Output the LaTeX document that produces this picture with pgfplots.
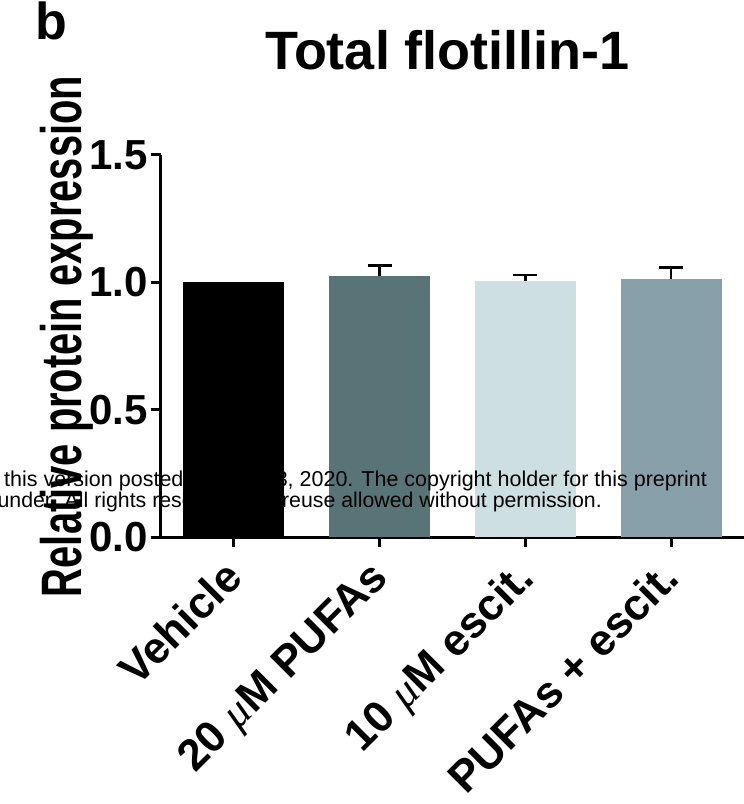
\documentclass[border=0pt]{standalone}
\usepackage{pgfplots}
\pgfplotsset{compat=1.18}
\usepackage{pgfplotstable}
\usepackage{fontspec}
\setmainfont{Liberation Sans}
\newfontfamily\muserif{Liberation Serif}
\newcommand{\um}{{\muserif\mdseries\itshape μ}}
\definecolor{cA}{HTML}{000000}
\definecolor{cB}{HTML}{587476}
\definecolor{cC}{HTML}{CDDFE0}
\definecolor{cD}{HTML}{87A0AA}
\pgfplotstableread{
x y err
0 1.000 0.000
1 1.026 0.040
2 1.005 0.024
3 1.015 0.043
}\datatable
\begin{document}
\begin{tikzpicture}
\begin{axis}[
  at={(161pt,267pt)}, anchor=south west,
  scale only axis, width=583pt, height=382pt,
  xmin=-0.5, xmax=3.5, ymin=0, ymax=1.5,
  axis x line=bottom, axis y line=left,
  axis line style={-, line width=3pt},
  every tick/.style={black, line width=3pt},
  tick align=outside, major tick length=10pt,
  xtick={0,1,2,3},
  xticklabels={Vehicle, 20 \um M PUFAs, 10 \um M escit., PUFAs + escit.},
  xticklabel style={xshift=-12pt, yshift=-8pt, rotate=45, anchor=north east, font=\fontsize{44}{44}\selectfont\bfseries, inner sep=2pt},
  ytick={0,0.5,1,1.5},
  yticklabel style={font=\fontsize{42}{42}\selectfont\bfseries, /pgf/number format/.cd, fixed, fixed zerofill, precision=1, assume math mode=true},
  ylabel={\scalebox{0.70}[1]{\fontsize{57}{57}\selectfont\bfseries Relative protein expression}},
  ylabel style={at={(axis description cs:-0.1372,0.525)}, anchor=base},
  title={\fontsize{54}{54}\selectfont\bfseries Total flotillin-1},
  title style={at={(axis description cs:0.4914,1.2094)}, anchor=base},
  clip=false,
]
\addplot[ybar, bar width=101pt, bar shift=0pt, fill=cA, draw=none]
  table[x=x, y=y, restrict expr to domain={\thisrow{x}}{0:0}] {\datatable};
\addplot[ybar, bar width=101pt, bar shift=0pt, fill=cB, draw=none,
  error bars/.cd, y dir=plus, y explicit, error bar style={line width=2.5pt, black}, error mark options={line width=2.5pt, mark size=12pt, black, rotate=90}]
  table[x=x, y=y, y error=err, restrict expr to domain={\thisrow{x}}{1:1}] {\datatable};
\addplot[ybar, bar width=101pt, bar shift=0pt, fill=cC, draw=none,
  error bars/.cd, y dir=plus, y explicit, error bar style={line width=2.5pt, black}, error mark options={line width=2.5pt, mark size=12pt, black, rotate=90}]
  table[x=x, y=y, y error=err, restrict expr to domain={\thisrow{x}}{2:2}] {\datatable};
\addplot[ybar, bar width=101pt, bar shift=0pt, fill=cD, draw=none,
  error bars/.cd, y dir=plus, y explicit, error bar style={line width=2.5pt, black}, error mark options={line width=2.5pt, mark size=12pt, black, rotate=90}]
  table[x=x, y=y, y error=err, restrict expr to domain={\thisrow{x}}{3:3}] {\datatable};
\end{axis}
\node[anchor=base west, inner sep=0pt, font=\fontsize{52}{52}\selectfont\bfseries] at (35pt,764pt) {b};
\node[anchor=base west, inner sep=0pt, font=\fontsize{21.5}{21.5}\selectfont] at (4pt,317pt) {this version posted March 1};
\node[anchor=base east, inner sep=0pt, font=\fontsize{21.5}{21.5}\selectfont] at (707pt,317pt) {3, 2020. The copyright holder for this preprint};
\node[anchor=base east, inner sep=0pt, font=\fontsize{21.3}{21.3}\selectfont] at (602pt,296pt) {funder. All rights reserved. No reuse allowed without permission.};
\pgfresetboundingbox
\useasboundingbox (0pt,0pt) rectangle (744pt,804pt);
\end{tikzpicture}
\end{document}
